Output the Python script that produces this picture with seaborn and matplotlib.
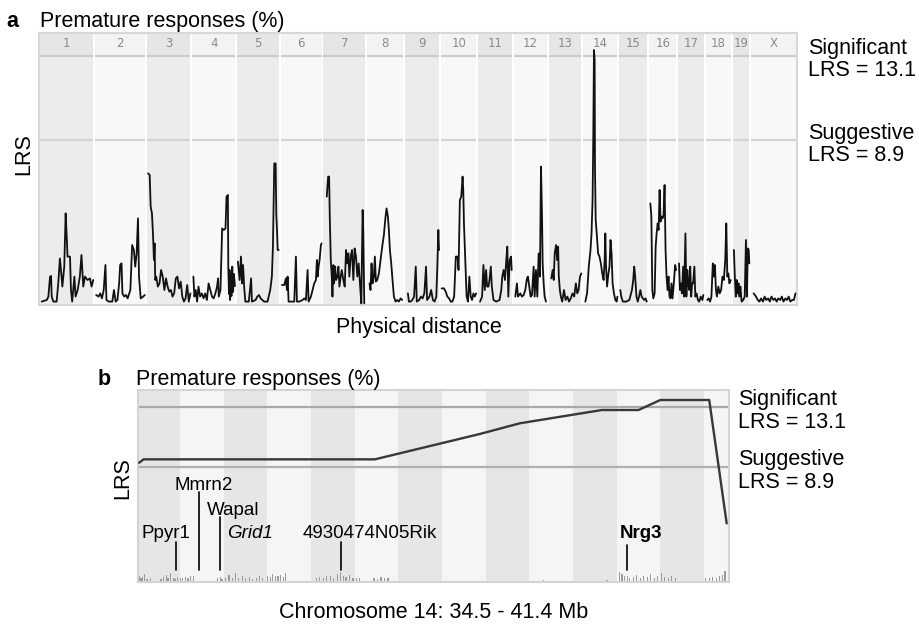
import numpy as np
import pandas as pd
import matplotlib
matplotlib.use("Agg")
import matplotlib.pyplot as plt
import matplotlib.transforms as mtransforms
from matplotlib.patches import Rectangle
import seaborn as sns

sns.set_theme(style="white")
plt.rcParams['font.family'] = ['Liberation Sans', 'DejaVu Sans']
plt.rcParams['text.color'] = 'black'

# ---------------- data: panel a (genome-wide scan) ----------------
chrom_names = ['1', '2', '3', '4', '5', '6', '7', '8', '9', '10', '11', '12',
               '13', '14', '15', '16', '17', '18', '19', 'X']
chrom_lengths = [197, 182, 160, 156, 153, 150, 153, 132, 124, 130, 122, 121,
                 120, 125, 103, 98, 95, 91, 61, 166]   # Mb

significant_lrs = 13.1
suggestive_lrs = 8.9

# (position within chromosome in Mb, LRS)
chr1 = [(8.5, 0.82), (26.8, 0.9), (32.8, 1.07), (38.9, 2.07), (42.6, 2.1), (45, 1.07), (51, 0.82),
        (63, 0.82), (69, 1.73), (75, 2.98), (79, 2.4), (84, 1.57), (91, 2.57), (96, 5.23), (100, 4.07),
        (103, 3.07), (112, 3.07), (115.5, 1.4), (120, 0.82), (128, 2.07), (132.5, 1.07), (140, 1.4),
        (148, 2.07), (154, 3.15), (160.5, 1.57), (166.6, 2.07), (176, 1.9), (185, 1.98), (191, 1.57),
        (197, 1.9)]
chr2 = [(3.8, 1.15), (12.6, 1.07), (18.8, 1.23), (25, 0.98), (31.4, 1.4), (37.7, 2.65), (41.4, 0.9),
        (50, 0.82), (62.8, 0.82), (69, 1.4), (75, 0.82), (81.6, 0.9), (87.9, 1.73), (91.6, 2.65),
        (96.6, 2.73), (100, 1.23), (106.7, 1.07), (113, 1.15), (119, 0.98), (129, 1.4), (135.5, 3.65),
        (141.8, 3.4), (146.8, 2.57), (151.9, 3.23), (156.9, 4.98), (160.6, 2.07), (166.9, 0.98),
        (175.7, 1.07), (182, 1.15)]
chr3 = [(4.8, 7.23), (10.7, 7.15), (14.3, 5.57), (19, 5.23), (22.7, 4.23), (26.3, 2.9), (28.7, 3.73),
        (31, 1.9), (34.6, 2.07), (40.6, 1.57), (46.6, 1.73), (52.5, 2.4), (58.5, 2.07), (64.5, 1.4),
        (70.4, 1.98), (76.4, 1.57), (82.4, 1.32), (88.4, 1.4), (94.3, 1.07), (100.3, 1.23), (106.3, 1.98),
        (112.2, 2.07), (118.2, 1.48), (124.2, 1.82), (130.1, 1.07), (136.1, 0.82), (142, 0.98),
        (148, 1.65), (154, 0.82), (160, 1.23)]
chr4 = [(3.7, 2.07), (7.4, 1.07), (12.4, 1.4), (17.3, 0.82), (22.3, 1.57), (28.5, 1.07), (34.7, 1.23),
        (40.9, 0.98), (47, 1.23), (53.2, 0.9), (59.4, 1.73), (65.6, 1.4), (71.8, 1.07), (78, 0.98),
        (84.2, 1.23), (90.4, 1.57), (94, 1.98), (96.6, 1.07), (102.8, 1.4), (109, 4.48), (115, 4.4),
        (121.3, 4.48), (125, 6.07), (130, 6.15), (131.5, 2.57), (134, 1.2), (136, 2.4), (138, 0.9),
        (141, 2.2), (143, 1.1), (146, 2.57), (149, 1.3), (152, 2.2), (156, 1.6)]
chr5 = [(3.7, 2.82), (10, 1.9), (15, 3.07), (18.7, 1.73), (22.4, 2.65), (27.4, 1.4), (31, 0.82),
        (43.5, 0.82), (52, 1.98), (55, 0.82), (68.4, 0.9), (74.6, 1.07), (80.9, 1.15), (87, 0.98),
        (99.5, 0.82), (112, 0.82), (122, 1.4), (128, 2.07), (131.9, 3.57), (136.8, 7.73), (141.8, 7.73),
        (144.3, 5.15), (146.8, 4.4), (149.3, 3.4), (153, 3.4)]
chr6 = [(4.9, 1.65), (13.4, 1.65), (19.5, 1.98), (23.2, 1.4), (25.6, 2.07), (29.3, 0.82), (37.8, 0.82),
        (50, 0.82), (56.1, 3.07), (59.8, 0.82), (68.3, 0.82), (80.5, 0.9), (86.6, 0.98), (92.7, 0.9),
        (98.8, 2.4), (102.5, 0.82), (111, 1.07), (117, 1.4), (123, 1.73), (129.3, 1.9), (133, 2.9),
        (135.4, 2.07), (139, 2.57), (142.7, 2.9), (147.6, 3.65), (150, 3.73)]
chr7 = [(12, 6.07), (17, 7.07), (20.6, 7.07), (23, 5.07), (26.7, 2.9), (30.4, 2.07), (32.8, 1.07),
        (36.4, 2.65), (38.8, 1.73), (42.5, 2.57), (46.1, 1.9), (51, 2.07), (54.6, 2.57), (58.3, 1.57),
        (63.1, 2.07), (66.8, 2.4), (72.8, 1.9), (77.7, 1.57), (82.6, 3.4), (87.4, 2.73), (91, 3.23),
        (94.7, 2.07), (99.5, 3.07), (104.4, 3.4), (109.3, 1.9), (114, 3.48), (119, 3.07), (123.8, 2.07),
        (128.7, 2.73), (133.5, 1.73), (138.4, 0.73), (143.3, 5.4), (145.7, 4.23), (149.3, 0.73)]
chr8 = [(8.6, 1.73), (12.2, 1.4), (15.9, 2.73), (19.6, 1.73), (24.4, 2.07), (28.1, 3.07), (31.8, 1.82),
        (36.7, 1.9), (42.8, 2.23), (48.9, 2.9), (55, 3.57), (61.1, 4.15), (67.2, 5.07), (70.9, 5.48),
        (75.8, 5.07), (79.4, 4.4), (83.1, 3.4), (88, 2.73), (91.7, 2.07), (97.8, 1.07), (103.9, 0.82),
        (110, 0.9), (116, 0.82), (122.2, 0.98), (128.3, 0.9)]
chr9 = [(10, 1.23), (13.8, 0.82), (20, 0.82), (26.3, 0.9), (32.6, 1.07), (38.8, 2.57), (42.6, 0.82),
        (51.4, 0.9), (57.6, 1.07), (63.9, 0.98), (70.2, 1.23), (76.4, 2.57), (80.2, 0.9), (89, 1.07),
        (95.2, 1.4), (101.5, 0.9), (107.8, 0.82), (114, 1.07), (117.8, 2.57), (121.5, 4.4), (124, 3.4)]
chr10 = [(2.5, 1.48), (11.1, 1.48), (17.3, 1.32), (23.5, 1.07), (29.7, 0.98), (35.9, 0.82), (42, 0.82),
         (48.3, 1.07), (54.5, 3.07), (60.7, 3.07), (64.4, 2.4), (69.3, 5.9), (74.3, 6.07), (79.2, 7.07),
         (81.7, 6.4), (84.2, 4.73), (89.1, 2.9), (94, 1.07), (99, 0.82), (104, 2.07), (109, 1.07),
         (113.9, 0.9), (118.8, 1.23), (123.8, 1.07), (128.8, 1.23)]
chr11 = [(6.2, 0.82), (13.6, 1.07), (18.5, 2.65), (23.4, 1.4), (28.3, 2.4), (32, 1.57), (37, 1.57),
         (40.7, 1.9), (45.6, 2.57), (49.3, 1.57), (55.4, 0.9), (65.3, 0.82), (77.6, 0.9), (83.8, 1.4),
         (87.5, 2.07), (92.4, 2.4), (97.3, 1.9), (102.3, 2.9), (106, 3.57), (109.6, 1.07), (114.6, 2.9),
         (119.5, 3.07), (122, 2.4)]
chr12 = [(6.1, 1.07), (12.2, 1.73), (15.9, 1.07), (24.4, 1.23), (30.6, 1.07), (36.7, 1.15), (42.8, 1.4),
         (48.9, 1.98), (52.5, 2.07), (57.4, 1.57), (62.3, 1.07), (67.2, 1.15), (73.3, 2.57), (77, 1.07),
         (81.9, 2.4), (86.8, 1.07), (91.7, 3.23), (96.5, 2.07), (100.2, 7.57), (103.9, 5.23),
         (106.3, 2.73), (110, 1.73), (113.6, 1.07), (118.5, 0.82)]
chr13 = [(10, 1.98), (15, 2.4), (18.8, 1.9), (22.5, 3.23), (27.5, 3.65), (31.3, 2.9), (35, 3.57),
         (37.5, 2.07), (41.3, 1.4), (45, 1.07), (50, 0.82), (56.3, 1.4), (62.5, 0.9), (68.8, 1.07),
         (75, 0.82), (81.3, 0.98), (87.5, 1.23), (93.8, 1.07), (100, 1.73), (105, 1.23), (110, 1.4),
         (115, 2.07), (120, 2.23)]
chr14 = [(7.6, 0.82), (13.9, 1.23), (20.2, 2.57), (26.5, 3.4), (30.3, 4.23), (34.1, 5.9), (36.6, 8.9),
         (39.2, 13.4), (41.7, 12.9), (42.9, 7.57), (45.5, 4.9), (49.3, 4.23), (54.3, 3.23), (59.4, 3.07),
         (64.4, 2.73), (69.5, 2.23), (74.5, 1.9), (78.3, 2.9), (80.8, 4.23), (83.4, 2.57), (87.1, 1.57),
         (92.2, 2.23), (96, 2.57), (99.8, 3.9), (103.6, 3.23), (107.4, 1.73), (112.4, 1.23),
         (117.5, 0.9), (122.5, 0.82), (125, 1.07)]
chr15 = [(3.6, 1.4), (7.1, 1.07), (13, 0.82), (24.9, 0.82), (36.7, 0.9), (46.2, 1.4), (50.9, 1.9),
         (54.5, 2.57), (58, 2.07), (62.8, 1.07), (67.5, 0.82), (72.2, 1.07), (77, 1.4), (81.7, 1.07),
         (86.4, 0.98), (91.2, 0.9), (95.9, 0.98), (100.6, 0.82)]
chr16 = [(3.6, 5.73), (7.3, 5.07), (10.9, 1.4), (14.5, 0.98), (19.4, 1.23), (23, 3.57), (26.6, 4.23),
         (30.3, 4.73), (33.9, 4.4), (37.5, 6.4), (41.1, 4.82), (44.8, 5.07), (48.4, 4.98), (52, 5.15),
         (55.7, 6.65), (59.3, 3.4), (62.9, 2.07), (66.6, 1.4), (70.2, 2.07), (73.8, 1.07), (77.4, 0.98),
         (81.1, 1.73), (84.7, 0.98), (89.5, 1.73), (94.4, 2.65), (98, 2.4)]
chr17 = [(3.5, 2.73), (7, 1.4), (10.6, 1.73), (14.1, 1.23), (18.8, 2.57), (22.3, 1.07), (27, 4.23),
         (30.5, 1.07), (34, 2.4), (37.5, 1.73), (41, 1.4), (44.6, 2.57), (48.1, 1.07), (51.6, 1.73),
         (55.1, 1.73), (59.8, 2.57), (63.3, 1.07), (68, 1.23), (72.7, 0.9), (77.4, 0.82), (83.3, 1.07),
         (89.1, 0.9), (92.7, 1.15)]
chr18 = [(5, 0.9), (10.1, 0.98), (15.2, 0.82), (20.2, 1.07), (25.3, 2.73), (29.1, 2.07), (32.9, 2.65),
         (36.7, 1.4), (40.4, 1.07), (45.5, 1.57), (50.6, 1.23), (55.6, 1.4), (60.7, 2.07), (65.7, 1.9),
         (70.8, 2.9), (74.6, 4.73), (78.4, 2.07), (82.2, 2.23), (86, 1.73), (91, 1.9)]
chr19 = [(4.5, 3.4), (7.9, 2.07), (11.3, 1.07), (14.7, 1.9), (18.1, 1.23), (21.5, 1.73), (24.9, 1.07),
         (28.3, 1.57), (32.8, 0.82), (38.4, 0.9), (44.1, 1.07), (48.6, 3.9), (52, 1.07), (55.4, 3.48),
         (58.8, 3.4), (61, 2.73)]
chrX = [(8.8, 1.23), (17.6, 1.07), (24, 0.9), (30, 0.82), (36, 0.98), (43, 0.82), (49, 1.07), (55, 0.9),
        (62, 0.98), (68, 0.82), (74, 1.07), (81, 0.9), (87, 0.98), (93, 0.82), (99, 0.98), (106, 0.9),
        (112, 1.07), (118, 0.82), (125, 0.98), (131, 0.9), (137, 1.07), (143, 0.82), (150, 0.9),
        (156, 0.9), (162, 1.23)]
chrom_traces = [chr1, chr2, chr3, chr4, chr5, chr6, chr7, chr8, chr9, chr10, chr11, chr12,
                chr13, chr14, chr15, chr16, chr17, chr18, chr19, chrX]

# ---------------- data: panel b (chromosome 14 zoom) ----------------
b_mb = [34.53, 34.58, 37.23, 38.43, 38.89, 39.83, 40.25, 40.50, 41.06, 41.26]
b_lrs = [9.17, 9.41, 9.41, 11.18, 11.93, 12.86, 12.86, 13.56, 13.56, 4.93]

snp_mb = [34.53, 34.55, 34.57, 34.59, 34.62, 34.66,
          34.78, 34.81, 34.84, 34.86, 34.89,
          34.93, 34.95, 34.97, 35.00, 35.03, 35.06, 35.09, 35.12, 35.15,
          35.43, 35.46, 35.48,
          35.52, 35.56, 35.60, 35.63, 35.67, 35.71, 35.75,
          35.79, 35.83, 35.87, 35.91, 35.94,
          36.00, 36.03, 36.06, 36.09, 36.12, 36.15, 36.18, 36.21,
          36.56, 36.60, 36.64, 36.68, 36.72, 36.76, 36.80, 36.84, 36.87, 36.90, 36.94, 36.98, 37.02, 37.05,
          37.22, 37.26, 37.30, 37.34, 37.38,
          39.16, 39.89,
          40.03, 40.06, 40.09, 40.12, 40.15, 40.19, 40.23, 40.27, 40.31, 40.35, 40.39, 40.43, 40.47,
          40.51, 40.55, 40.59, 40.63, 40.67,
          41.02, 41.06, 41.10, 41.14, 41.18, 41.21, 41.24]
snp_h = [0.45, 0.25, 0.35, 0.55, 0.2, 0.3,
         0.2, 0.35, 0.5, 0.3, 0.6,
         0.3, 0.2, 0.35, 0.3, 0.3, 0.35, 0.3, 0.4, 0.45,
         0.25, 0.35, 0.2,
         0.3, 0.5, 0.25, 0.6, 0.3, 0.45, 0.25,
         0.35, 0.2, 0.3, 0.4, 0.25,
         0.4, 0.35, 0.55, 0.4, 0.45, 0.5, 0.35, 0.6,
         0.25, 0.35, 0.3, 0.45, 0.4, 0.3, 0.55, 0.7, 0.45, 0.35, 0.5, 0.3, 0.25, 0.3,
         0.3, 0.2, 0.35, 0.25, 0.3,
         0.12, 0.12,
         0.7, 0.55, 0.4, 0.45, 0.3, 0.35, 0.5, 0.3, 0.45, 0.35, 0.55, 0.3, 0.4,
         0.6, 0.35, 0.3, 0.45, 0.25,
         0.25, 0.3, 0.35, 0.3, 0.45, 0.5, 0.8]

gene_mb = [34.95, 35.22, 35.46, 36.84, 40.115]
gene_line_top = [0.21, 0.47, 0.34, 0.21, 0.193]   # axes fraction (layout)

# ---------------- figure ----------------
W, H = 919, 624
fig = plt.figure(figsize=(W / 100, H / 100), dpi=100)
fig.patch.set_facecolor('white')


def fx(p):
    return p / W


def fy(p):
    return 1 - p / H


TXT = 15.5
GAP = 7.0

# ---- panel a ----
ax_a = fig.add_axes([fx(39), fy(305), fx(797) - fx(39), fy(33) - fy(305)])
offsets = []
o = 0.0
for L in chrom_lengths:
    offsets.append(o)
    o += L + GAP
total = o - GAP
ylo_a, yhi_a = 0.65, 14.25
ax_a.set_xlim(-1.5, total + 1.5)
ax_a.set_ylim(ylo_a, yhi_a)
ax_a.set_facecolor('white')

body_cols = ['#ececec', '#f8f8f8']
head_cols = ['#e6e6e6', '#f3f3f3']
for i, (off, L) in enumerate(zip(offsets, chrom_lengths)):
    ax_a.add_patch(Rectangle((off, ylo_a), L, significant_lrs - ylo_a,
                             facecolor=body_cols[i % 2], edgecolor='none', zorder=0))
    ax_a.add_patch(Rectangle((off, significant_lrs), L, yhi_a - significant_lrs,
                             facecolor=head_cols[i % 2], edgecolor='none', zorder=0))
    ax_a.text(off + L / 2, (significant_lrs + yhi_a) / 2 + 0.05, chrom_names[i],
              ha='center', va='center', fontsize=8.5, color='#8a8a8a',
              family='DejaVu Sans', zorder=1)
starts = np.array(offsets)
ends = starts + np.array(chrom_lengths)
ax_a.hlines(np.full(len(starts), significant_lrs), starts, ends, colors='#cccccc', lw=1.6, zorder=1)
ax_a.hlines(np.full(len(starts), suggestive_lrs), starts, ends, colors='#d4d4d4', lw=1.6, zorder=1)

rows = []
for name, off, tr in zip(chrom_names, offsets, chrom_traces):
    for mb, v in tr:
        rows.append((name, off + mb, v))
df_a = pd.DataFrame(rows, columns=['chrom', 'gpos', 'lrs'])
sns.lineplot(data=df_a, x='gpos', y='lrs', units='chrom', estimator=None,
             color='#111111', lw=1.3, ax=ax_a, legend=False, zorder=3)
ax_a.set(xlabel='', ylabel='', xticks=[], yticks=[])
for s in ax_a.spines.values():
    s.set_color('#d8d8d8')
    s.set_linewidth(1.5)

# ---- panel b ----
ax_b = fig.add_axes([fx(138.3), fy(582), fx(729.3) - fx(138.3), fy(390) - fy(582)])
xlo_b, xhi_b = 34.52, 41.29
ylo_b, yhi_b = 0.83, 14.26
ax_b.set_xlim(xlo_b, xhi_b)
ax_b.set_ylim(ylo_b, yhi_b)
band_edges = np.arange(34.5, 41.5, 0.5)
for k, e in enumerate(band_edges):
    ax_b.axvspan(e, e + 0.5, facecolor=['#e6e6e6', '#f5f5f5'][k % 2], edgecolor='none', zorder=0)
ax_b.axhline(significant_lrs, color='#a9a9a9', lw=1.6, zorder=1)
ax_b.axhline(suggestive_lrs, color='#b0b0b0', lw=1.6, zorder=1)
ax_b.bar(snp_mb, snp_h, bottom=ylo_b, width=0.014, color='#9a9a9a', edgecolor='none',
         linewidth=0, zorder=2)
df_b = pd.DataFrame({'mb': b_mb, 'lrs': b_lrs})
sns.lineplot(data=df_b, x='mb', y='lrs', color='#383838', lw=1.7, ax=ax_b, zorder=3, sort=False)
trans_b = mtransforms.blended_transform_factory(ax_b.transData, ax_b.transAxes)
for g, top in zip(gene_mb, gene_line_top):
    ax_b.plot([g, g], [0.065, top], transform=trans_b, color='black', lw=1.2, zorder=4)
ax_b.set(xlabel='', ylabel='', xticks=[], yticks=[])
for s in ax_b.spines.values():
    s.set_color('#d4d4d4')
    s.set_linewidth(1.5)

# ---- texts ----
fig.text(fx(6.5), fy(26.7), 'a', fontsize=TXT, fontweight='bold', va='baseline', ha='left')
fig.text(fx(40.5), fy(26.7), 'Premature responses (%)', fontsize=TXT, va='baseline', ha='left')
fig.text(fx(24), fy(154), 'LRS', fontsize=TXT, rotation=90, va='center', ha='center')
fig.text(fx(419), fy(333.3), 'Physical distance', fontsize=TXT, va='baseline', ha='center')
fig.text(fx(808), fy(59.5), 'Significant\nLRS = 13.1', fontsize=TXT, va='center', ha='left',
         linespacing=1.1)
fig.text(fx(808), fy(144.5), 'Suggestive\nLRS = 8.9', fontsize=TXT, va='center', ha='left',
         linespacing=1.1)

fig.text(fx(98), fy(385), 'b', fontsize=TXT, fontweight='bold', va='baseline', ha='left')
fig.text(fx(136), fy(385), 'Premature responses (%)', fontsize=TXT, va='baseline', ha='left')
fig.text(fx(123), fy(478), 'LRS', fontsize=TXT, rotation=90, va='center', ha='center')
fig.text(fx(434), fy(618.3), 'Chromosome 14: 34.5 - 41.4 Mb', fontsize=TXT, va='baseline', ha='center')
fig.text(fx(738), fy(411), 'Significant\nLRS = 13.1', fontsize=TXT, va='center', ha='left',
         linespacing=1.1)
fig.text(fx(738), fy(471), 'Suggestive\nLRS = 8.9', fontsize=TXT, va='center', ha='left',
         linespacing=1.1)

GS = 13.5
fig.text(fx(141.7), fy(538.3), 'Ppyr1', fontsize=GS, va='baseline', ha='left')
fig.text(fx(174), fy(490), 'Mmrn2', fontsize=GS, va='baseline', ha='left')
fig.text(fx(207.3), fy(515), 'Wapal', fontsize=GS, va='baseline', ha='left')
fig.text(fx(226.7), fy(538.3), 'Grid1', fontsize=GS, va='baseline', ha='left', style='italic')
fig.text(fx(302.7), fy(538.3), '4930474N05Rik', fontsize=GS, va='baseline', ha='left')
fig.text(fx(620), fy(538.3), 'Nrg3', fontsize=GS, va='baseline', ha='left', fontweight='bold')

fig.savefig('out.png', dpi=100, facecolor='white')
